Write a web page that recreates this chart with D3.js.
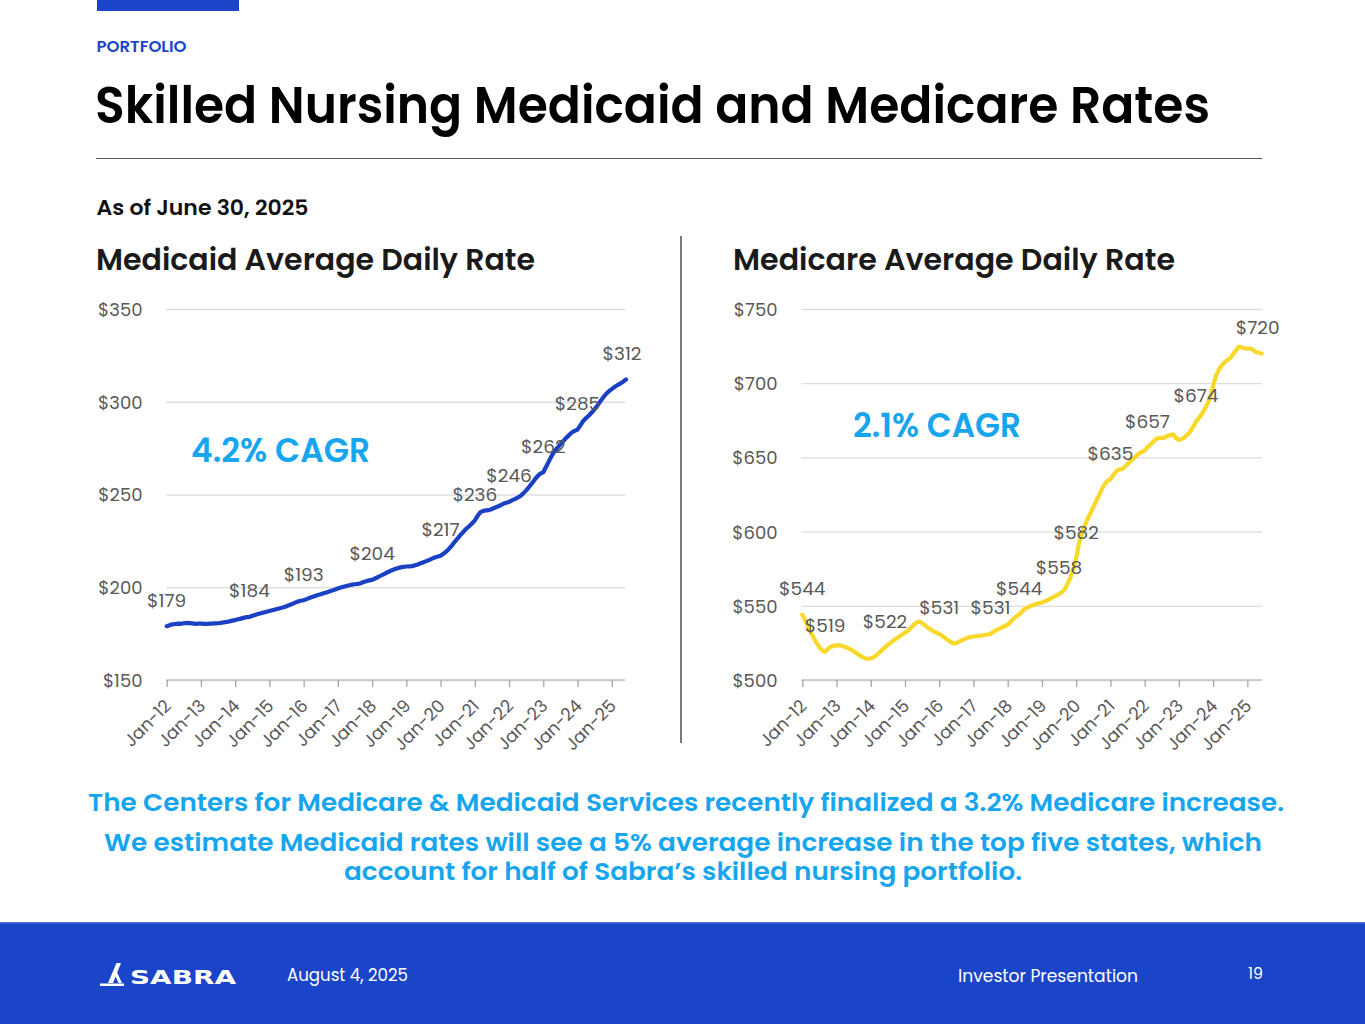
<!DOCTYPE html>
<html><head><meta charset="utf-8">
<script src="https://cdn.jsdelivr.net/npm/d3@7"></script>
<style>
html,body{margin:0;padding:0;background:#fff;}
svg{display:block;}
</style></head>
<body>
<svg id="c" width="1365" height="1024"></svg>
<script>
// ---------------- DATA ----------------
const tickLabels = ["Jan-12","Jan-13","Jan-14","Jan-15","Jan-16","Jan-17","Jan-18","Jan-19","Jan-20","Jan-21","Jan-22","Jan-23","Jan-24","Jan-25"];
const tickMonthIndex = [0,12,24,36,48,60,72,84,96,108,120,132,144,156];

// Monthly, Jan-12 .. Jun-25
const medicaidValues = [
  179,179.5,180,180.2,180.4,180.3,180.6,180.8,180.7,180.5,180.3,180.4,
  180.4,180.3,180.3,180.4,180.4,180.5,180.6,180.8,181.1,181.3,181.6,182,
  182.3,182.7,183.1,183.5,183.9,184,184.6,185.1,185.6,186,186.4,186.8,
  187.2,187.6,188,188.4,188.8,189.2,189.8,190.4,191,191.7,192.3,192.7,
  193,193.6,194.2,194.8,195.3,195.8,196.2,196.7,197.2,197.7,198.2,198.8,
  199.3,199.8,200.3,200.7,201.1,201.4,201.6,201.8,202.2,202.8,203.3,203.7,
  204,204.7,205.4,206.2,207,207.8,208.5,209.2,209.8,210.3,210.7,211,
  211.2,211.3,211.4,211.8,212.3,212.9,213.5,214.1,214.7,215.4,216.1,216.6,
  217,218,219.3,220.8,222.6,224.5,226.4,228.2,229.9,231.5,232.9,234.4,
  236,238.5,240.5,241.2,241.4,241.6,242.2,242.9,243.5,244.2,245,245.6,
  246,246.8,247.5,248.3,249.2,250.6,252.2,254,256,258,259.9,261.3,
  262,265,268,271,273.5,275.3,277,278.8,280.5,282,283.4,284.3,
  285,287.3,289.6,291.2,292.6,294.2,296,298,300.2,302.3,304.2,305.7,
  306.8,308,309,309.8,310.8,312
];
const medicareValues = [
  544,540.5,536,532,528.5,525,522,520,519,521,522.5,523,
  523.3,523.4,523,522.3,521.5,520.5,519.3,518,516.8,515.6,514.7,514.3,
  514.5,515.3,516.7,518.5,520.3,522,523.6,525.2,526.7,528,529.3,530.6,
  531.8,533.2,535,537,538.8,539.4,538.2,536.8,535.3,534,532.8,531.8,
  531,529.8,528.4,527,525.7,524.6,524.9,525.8,526.8,527.7,528.5,529,
  529.3,529.5,529.7,530,530.3,530.7,531,532.5,533.5,534.4,535.5,536.4,
  537.2,539,541.2,542.8,544,546,548,549,549.8,550.5,551.2,551.8,
  552.2,553,553.9,554.9,555.9,556.7,558,559.2,561,565,569,575,
  582,592,599,604,608.5,612.5,616.5,620.5,624.5,628.5,632,634.3,
  635,638,640.5,642,642,643.5,645.5,647.5,649,651,652.7,653.5,
  654.5,657,658.5,660.5,662.5,663,663.2,663.3,664.5,665,665.5,663,
  661.7,662.5,663.5,665.5,667.5,670.5,674,676.5,679,682.5,686,691,
  698,705,709,712,714,715.5,717,719.5,722,724.5,724,723.5,
  723.4,723.3,722.5,721,720.5,720
];
const medicaidTicks = [150,200,250,300,350];
const medicareTicks = [500,550,600,650,700,750];
const medicaidLabelIdx = [0,29,48,72,96,108,120,132,144,161];
const medicareLabelIdx = [0,8,29,48,66,76,90,96,108,121,138,161];
const medicaidCagr = "4.2% CAGR";
const medicareCagr = "2.1% CAGR";

// ---------------- STYLE ----------------
const FONT = "Poppins, Inter, 'Open Sans', sans-serif";
const BLUE = "#1a45c9";
const CYAN = "#17a5ee";
const GREY = "#595959";

const svg = d3.select("#c");
function txt(x, y, s, o) {
  const t = svg.append("text").attr("x", x).attr("y", y).text(s)
    .attr("font-family", o.family || FONT)
    .attr("font-size", o.size).attr("font-weight", o.weight || 400)
    .attr("fill", o.fill || "#000");
  if (o.anchor) t.attr("text-anchor", o.anchor);
  if (o.len) t.attr("textLength", o.len).attr("lengthAdjust", "spacingAndGlyphs");
  return t;
}

// header
svg.append("rect").attr("x", 97).attr("y", 0).attr("width", 142).attr("height", 11).attr("fill", BLUE);
txt(96.5, 51.5, "PORTFOLIO", {size: 16, weight: 600, fill: BLUE, len: 90});
txt(95, 123, "Skilled Nursing Medicaid and Medicare Rates", {size: 51, weight: 600, fill: "#000", len: 1115});
svg.append("line").attr("x1", 96).attr("x2", 1262).attr("y1", 158.5).attr("y2", 158.5).attr("stroke", "#555").attr("stroke-width", 1.2);
txt(96.5, 214.5, "As of June 30, 2025", {size: 21, weight: 600, fill: "#111", len: 212});
txt(96, 270, "Medicaid Average Daily Rate", {size: 29.5, weight: 600, fill: "#1a1a1a", len: 439});
txt(733, 270, "Medicare Average Daily Rate", {size: 29.5, weight: 600, fill: "#1a1a1a", len: 442});
svg.append("line").attr("x1", 681).attr("x2", 681).attr("y1", 236).attr("y2", 743).attr("stroke", "#333").attr("stroke-width", 1.3);

// ---------------- CHARTS ----------------
function chart(cfg) {
  const g = svg.append("g");
  const x = d3.scaleLinear().domain([0, cfg.values.length - 1]).range([cfg.x0, cfg.x1]);
  const y = d3.scaleLinear().domain([cfg.ticks[0], cfg.ticks[cfg.ticks.length - 1]]).range([680, 309]);

  // y axis with gridlines
  const ya = g.append("g").attr("transform", `translate(${cfg.gridStart},0)`)
    .call(d3.axisLeft(y).tickValues(cfg.ticks).tickFormat(d => "$" + d)
      .tickSize(-(cfg.gridEnd - cfg.gridStart)).tickPadding(cfg.gridStart - cfg.labelRight));
  ya.select(".domain").remove();
  ya.selectAll(".tick line").attr("stroke", "#dedede").attr("stroke-width", 1.3);
  ya.selectAll(".tick text").attr("font-family", FONT).attr("font-size", 18).attr("fill", GREY).attr("dy", "0.36em");

  // x axis
  const xa = g.append("g").attr("transform", `translate(0,${y(cfg.ticks[0])})`)
    .call(d3.axisBottom(x).tickValues(tickMonthIndex).tickFormat((d, i) => tickLabels[i])
      .tickSize(7).tickSizeOuter(0));
  xa.select(".domain").attr("stroke", "#c4c4c4").attr("stroke-width", 1.3)
    .attr("d", `M${cfg.gridStart},0H${cfg.gridEnd}`);
  xa.selectAll(".tick line").attr("stroke", "#a6a6a6").attr("stroke-width", 1.3);
  xa.selectAll(".tick text").attr("font-family", FONT).attr("font-size", 17.5).attr("fill", GREY)
    .attr("x", 0).attr("y", 0).attr("dy", 0).attr("text-anchor", "end")
    .attr("transform", "translate(5,27) rotate(-45)");

  // line
  g.append("path").datum(cfg.values)
    .attr("fill", "none").attr("stroke", cfg.color).attr("stroke-width", 4.2)
    .attr("stroke-linejoin", "round").attr("stroke-linecap", "round")
    .attr("d", d3.line().x((d, i) => x(i)).y(d => y(d)));

  // data labels
  g.selectAll("text.dl").data(cfg.labelIdx).join("text").attr("class", "dl")
    .attr("x", (d, k) => x(d) + (k === cfg.labelIdx.length - 1 ? -4 : 0))
    .attr("y", d => y(cfg.values[d]) - 19.5)
    .attr("text-anchor", "middle").attr("font-family", FONT).attr("font-size", 18.5).attr("fill", GREY)
    .text(d => "$" + Math.round(cfg.values[d]));

  // CAGR
  txt(cfg.cagrX, cfg.cagrY, cfg.cagr, {size: 33, weight: 600, fill: CYAN, len: cfg.cagrLen});
}

chart({values: medicaidValues, ticks: medicaidTicks, labelIdx: medicaidLabelIdx, color: "#1a40c4",
  x0: 166.7, x1: 626, gridStart: 166, gridEnd: 625, labelRight: 142.5,
  cagr: medicaidCagr, cagrX: 191, cagrY: 462, cagrLen: 179});
chart({values: medicareValues, ticks: medicareTicks, labelIdx: medicareLabelIdx, color: "#f8d82a",
  x0: 802.3, x1: 1261.6, gridStart: 801.5, gridEnd: 1262, labelRight: 777.5,
  cagr: medicareCagr, cagrX: 853, cagrY: 437, cagrLen: 168});

// ---------------- NOTES ----------------
txt(686, 811, "The Centers for Medicare & Medicaid Services recently finalized a 3.2% Medicare increase.", {size: 25, weight: 600, fill: CYAN, anchor: "middle", len: 1196});
txt(683, 851, "We estimate Medicaid rates will see a 5% average increase in the top five states, which", {size: 25, weight: 600, fill: CYAN, anchor: "middle", len: 1158});
txt(683, 880, "account for half of Sabra\u2019s skilled nursing portfolio.", {size: 25, weight: 600, fill: CYAN, anchor: "middle", len: 678});

// ---------------- FOOTER ----------------
svg.append("rect").attr("x", 0).attr("y", 922).attr("width", 1365).attr("height", 102).attr("fill", BLUE);
svg.append("rect").attr("x", 0).attr("y", 922).attr("width", 1365).attr("height", 1.5).attr("fill", "#4f70d6");
// logo
svg.append("path").attr("d", "M108,983 L116.5,963 L121,963 L113,983 Z").attr("fill", "#fff");
svg.append("path").attr("d", "M116,970 L122,983 L118.5,983 L114.5,974 Z").attr("fill", "#fff");
svg.append("rect").attr("x", 100).attr("y", 983.5).attr("width", 24).attr("height", 2.5).attr("fill", "#fff");
txt(130, 984, "SABRA", {size: 20, weight: 700, fill: "#fff", family: "'DejaVu Sans', sans-serif", len: 106});
txt(287, 981, "August 4, 2025", {size: 17, weight: 400, fill: "#fff", len: 121});
txt(958, 982, "Investor Presentation", {size: 17, weight: 400, fill: "#fff", len: 180});
txt(1248, 979, "19", {size: 16, weight: 400, fill: "#fff", len: 15});
</script>
</body></html>
